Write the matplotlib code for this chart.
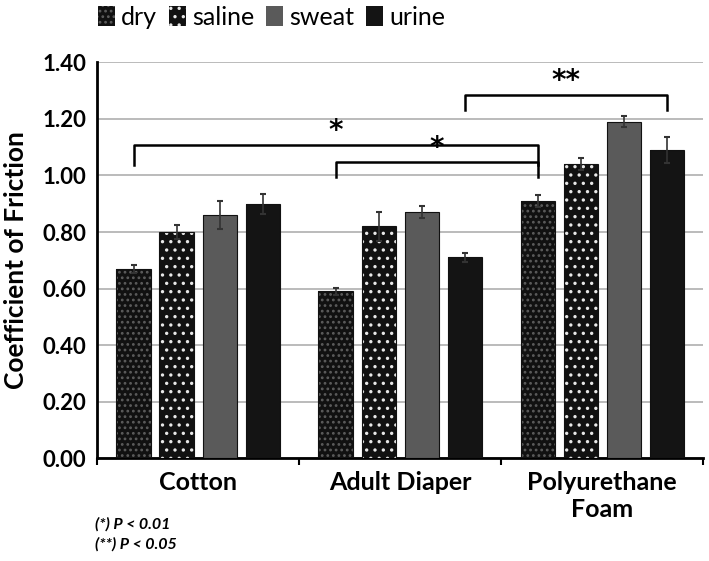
import numpy as np
import matplotlib.pyplot as plt

plt.rcParams['font.family'] = ['Lato', 'DejaVu Sans']
plt.rcParams['hatch.linewidth'] = 1.2

categories = ['Cotton', 'Adult Diaper', 'Polyurethane\nFoam']
series = ['dry', 'saline', 'sweat', 'urine']
dry = [0.67, 0.59, 0.91]
saline = [0.80, 0.82, 1.04]
sweat = [0.86, 0.87, 1.19]
urine = [0.90, 0.71, 1.09]
dry_err = [0.015, 0.012, 0.02]
saline_err = [0.025, 0.05, 0.02]
sweat_err = [0.05, 0.022, 0.02]
urine_err = [0.035, 0.015, 0.045]
yticks = [0.0, 0.2, 0.4, 0.6, 0.8, 1.0, 1.2, 1.4]

values = [dry, saline, sweat, urine]
errors = [dry_err, saline_err, sweat_err, urine_err]
faces = ['#111111', '#111111', '#5a5a5a', '#141414']
hatches = ['...', '..', None, None]
hatch_cols = ['#5c5c5c', '#e8e8e8', None, None]

fig = plt.figure(figsize=(7.09, 5.61), dpi=100)
ax = fig.add_axes([0.137, 0.183, 0.855, 0.706])

x = np.arange(len(categories))
step = 0.213
width = 0.17
handles = []
for i, (vals, errs) in enumerate(zip(values, errors)):
    pos = x + (i - 1.5) * step
    b = ax.bar(pos, vals, width, color=faces[i], hatch=hatches[i],
               edgecolor=hatch_cols[i] or faces[i], linewidth=0, zorder=3)
    ax.bar(pos, vals, width, fill=False, edgecolor='#111111', linewidth=0.8, zorder=4)
    ax.errorbar(pos, vals, yerr=errs, fmt='none', ecolor='#333333', elinewidth=1.2,
                capsize=2.5, capthick=1.5, zorder=5)
    handles.append(b)

ax.set_xlim(-0.5, 2.5)
ax.set_ylim(0, 1.4)
ax.set_yticks(yticks)
ax.set_yticklabels([f'{t:.2f}' for t in yticks], fontsize=16, fontweight='bold')
ax.set_xticks(x)
ax.set_xticklabels(categories, fontsize=18, fontweight='bold')
ax.tick_params(axis='x', length=0, pad=9)
ax.tick_params(axis='y', length=0, pad=8)
ax.set_xticks([-0.5, 0.5, 1.5, 2.5], minor=True)
ax.tick_params(axis='x', which='minor', length=5, width=1.5, direction='out')
ax.yaxis.grid(True, color='#b5b5b5', linewidth=1.3, zorder=0)
ax.set_axisbelow(True)
for s in ['top', 'right']:
    ax.spines[s].set_visible(False)
ax.spines['left'].set_linewidth(2)
ax.spines['bottom'].set_linewidth(2)
ax.set_ylabel('Coefficient of Friction', fontsize=19, fontweight='bold', labelpad=10)


# significance brackets
def bracket(x0, x1, y, drop, label):
    ax.plot([x0, x0, x1, x1], [y - drop, y, y, y - drop], color='black',
            linewidth=1.8, clip_on=False, zorder=6)
    ax.text((x0 + x1) / 2, y + 0.0, label, ha='center', va='bottom',
            fontsize=20, fontweight='bold', family='DejaVu Sans')


bracket(x[0] - 1.5 * step, x[2] - 1.5 * step, 1.106, 0.07, '*')
bracket(x[1] - 1.5 * step, x[2] - 1.5 * step, 1.046, 0.053, '*')
bracket(x[1] + 1.5 * step, x[2] + 1.5 * step, 1.283, 0.053, '**')

fig.legend(handles, series, loc='upper center', bbox_to_anchor=(0.383, 1.03), ncol=4,
           frameon=False, fontsize=18, handlelength=0.7, handleheight=0.9,
           handletextpad=0.25, columnspacing=0.45)

fig.text(0.134, 0.057, '(*) P < 0.01', fontsize=11.5, fontweight='bold', style='italic')
fig.text(0.134, 0.022, '(**) P < 0.05', fontsize=11.5, fontweight='bold', style='italic')

fig.savefig('out.png', dpi=100)
